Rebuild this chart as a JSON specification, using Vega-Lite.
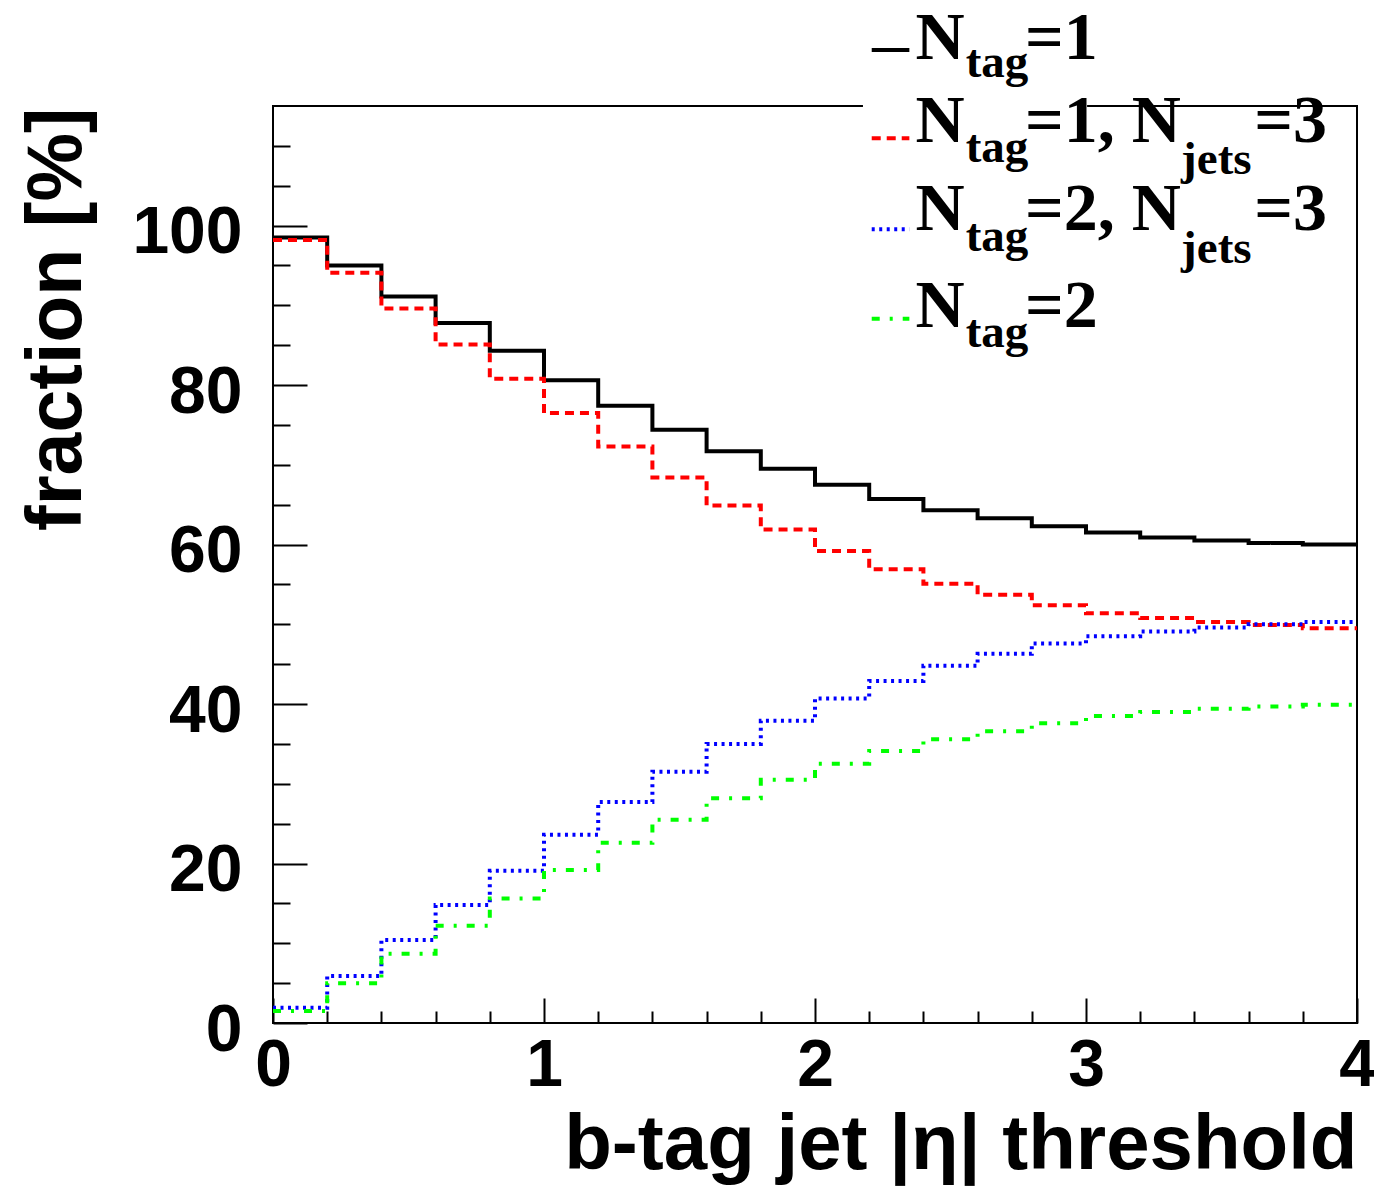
{
  "$schema": "https://vega.github.io/schema/vega-lite/v6.json",
  "width": 1084,
  "height": 917,
  "autosize": {"type": "none"},
  "padding": {"left": 273, "top": 106, "right": 17, "bottom": 163},
  "background": "#ffffff",
  "config": {
    "view": {"stroke": "#000000", "strokeWidth": 2},
    "axis": {
      "grid": false, "domain": false, "tickColor": "#000000", "tickWidth": 2,
      "labelColor": "#000000", "titleColor": "#000000",
      "labelFont": "Liberation Sans", "labelFontWeight": "bold", "labelFontSize": 66,
      "titleFont": "Liberation Sans", "titleFontWeight": "bold", "titleFontSize": 77,
      "labelFlush": false, "labelOverlap": false, "labelBound": false
    },
    "text": {"font": "Liberation Serif", "fontWeight": "bold", "color": "#000000"}
  },
  "datasets": {
    "hist": [
      {"s": "Ntag1", "bin": 0, "x0": 0.0, "x1": 0.2, "v": 98.5},
      {"s": "Ntag1", "bin": 1, "x0": 0.2, "x1": 0.4, "v": 95.0},
      {"s": "Ntag1", "bin": 2, "x0": 0.4, "x1": 0.6, "v": 91.1},
      {"s": "Ntag1", "bin": 3, "x0": 0.6, "x1": 0.8, "v": 87.8},
      {"s": "Ntag1", "bin": 4, "x0": 0.8, "x1": 1.0, "v": 84.3},
      {"s": "Ntag1", "bin": 5, "x0": 1.0, "x1": 1.2, "v": 80.6},
      {"s": "Ntag1", "bin": 6, "x0": 1.2, "x1": 1.4, "v": 77.4},
      {"s": "Ntag1", "bin": 7, "x0": 1.4, "x1": 1.6, "v": 74.4},
      {"s": "Ntag1", "bin": 8, "x0": 1.6, "x1": 1.8, "v": 71.7},
      {"s": "Ntag1", "bin": 9, "x0": 1.8, "x1": 2.0, "v": 69.5},
      {"s": "Ntag1", "bin": 10, "x0": 2.0, "x1": 2.2, "v": 67.5},
      {"s": "Ntag1", "bin": 11, "x0": 2.2, "x1": 2.4, "v": 65.7},
      {"s": "Ntag1", "bin": 12, "x0": 2.4, "x1": 2.6, "v": 64.3},
      {"s": "Ntag1", "bin": 13, "x0": 2.6, "x1": 2.8, "v": 63.3},
      {"s": "Ntag1", "bin": 14, "x0": 2.8, "x1": 3.0, "v": 62.3},
      {"s": "Ntag1", "bin": 15, "x0": 3.0, "x1": 3.2, "v": 61.5},
      {"s": "Ntag1", "bin": 16, "x0": 3.2, "x1": 3.4, "v": 60.9},
      {"s": "Ntag1", "bin": 17, "x0": 3.4, "x1": 3.6, "v": 60.5},
      {"s": "Ntag1", "bin": 18, "x0": 3.6, "x1": 3.8, "v": 60.2},
      {"s": "Ntag1", "bin": 19, "x0": 3.8, "x1": 4.0, "v": 60.0},
      {"s": "Ntag1Njets3", "bin": 0, "x0": 0.0, "x1": 0.2, "v": 98.2},
      {"s": "Ntag1Njets3", "bin": 1, "x0": 0.2, "x1": 0.4, "v": 94.1},
      {"s": "Ntag1Njets3", "bin": 2, "x0": 0.4, "x1": 0.6, "v": 89.6},
      {"s": "Ntag1Njets3", "bin": 3, "x0": 0.6, "x1": 0.8, "v": 85.1},
      {"s": "Ntag1Njets3", "bin": 4, "x0": 0.8, "x1": 1.0, "v": 80.8},
      {"s": "Ntag1Njets3", "bin": 5, "x0": 1.0, "x1": 1.2, "v": 76.5},
      {"s": "Ntag1Njets3", "bin": 6, "x0": 1.2, "x1": 1.4, "v": 72.3},
      {"s": "Ntag1Njets3", "bin": 7, "x0": 1.4, "x1": 1.6, "v": 68.4},
      {"s": "Ntag1Njets3", "bin": 8, "x0": 1.6, "x1": 1.8, "v": 64.9},
      {"s": "Ntag1Njets3", "bin": 9, "x0": 1.8, "x1": 2.0, "v": 61.9},
      {"s": "Ntag1Njets3", "bin": 10, "x0": 2.0, "x1": 2.2, "v": 59.2},
      {"s": "Ntag1Njets3", "bin": 11, "x0": 2.2, "x1": 2.4, "v": 56.9},
      {"s": "Ntag1Njets3", "bin": 12, "x0": 2.4, "x1": 2.6, "v": 55.1},
      {"s": "Ntag1Njets3", "bin": 13, "x0": 2.6, "x1": 2.8, "v": 53.7},
      {"s": "Ntag1Njets3", "bin": 14, "x0": 2.8, "x1": 3.0, "v": 52.4},
      {"s": "Ntag1Njets3", "bin": 15, "x0": 3.0, "x1": 3.2, "v": 51.4},
      {"s": "Ntag1Njets3", "bin": 16, "x0": 3.2, "x1": 3.4, "v": 50.8},
      {"s": "Ntag1Njets3", "bin": 17, "x0": 3.4, "x1": 3.6, "v": 50.3},
      {"s": "Ntag1Njets3", "bin": 18, "x0": 3.6, "x1": 3.8, "v": 49.9},
      {"s": "Ntag1Njets3", "bin": 19, "x0": 3.8, "x1": 4.0, "v": 49.5},
      {"s": "Ntag2Njets3", "bin": 0, "x0": 0.0, "x1": 0.2, "v": 1.9},
      {"s": "Ntag2Njets3", "bin": 1, "x0": 0.2, "x1": 0.4, "v": 5.9},
      {"s": "Ntag2Njets3", "bin": 2, "x0": 0.4, "x1": 0.6, "v": 10.4},
      {"s": "Ntag2Njets3", "bin": 3, "x0": 0.6, "x1": 0.8, "v": 14.8},
      {"s": "Ntag2Njets3", "bin": 4, "x0": 0.8, "x1": 1.0, "v": 19.1},
      {"s": "Ntag2Njets3", "bin": 5, "x0": 1.0, "x1": 1.2, "v": 23.6},
      {"s": "Ntag2Njets3", "bin": 6, "x0": 1.2, "x1": 1.4, "v": 27.7},
      {"s": "Ntag2Njets3", "bin": 7, "x0": 1.4, "x1": 1.6, "v": 31.5},
      {"s": "Ntag2Njets3", "bin": 8, "x0": 1.6, "x1": 1.8, "v": 35.0},
      {"s": "Ntag2Njets3", "bin": 9, "x0": 1.8, "x1": 2.0, "v": 37.9},
      {"s": "Ntag2Njets3", "bin": 10, "x0": 2.0, "x1": 2.2, "v": 40.7},
      {"s": "Ntag2Njets3", "bin": 11, "x0": 2.2, "x1": 2.4, "v": 42.9},
      {"s": "Ntag2Njets3", "bin": 12, "x0": 2.4, "x1": 2.6, "v": 44.8},
      {"s": "Ntag2Njets3", "bin": 13, "x0": 2.6, "x1": 2.8, "v": 46.3},
      {"s": "Ntag2Njets3", "bin": 14, "x0": 2.8, "x1": 3.0, "v": 47.6},
      {"s": "Ntag2Njets3", "bin": 15, "x0": 3.0, "x1": 3.2, "v": 48.5},
      {"s": "Ntag2Njets3", "bin": 16, "x0": 3.2, "x1": 3.4, "v": 49.1},
      {"s": "Ntag2Njets3", "bin": 17, "x0": 3.4, "x1": 3.6, "v": 49.6},
      {"s": "Ntag2Njets3", "bin": 18, "x0": 3.6, "x1": 3.8, "v": 50.0},
      {"s": "Ntag2Njets3", "bin": 19, "x0": 3.8, "x1": 4.0, "v": 50.3},
      {"s": "Ntag2", "bin": 0, "x0": 0.0, "x1": 0.2, "v": 1.5},
      {"s": "Ntag2", "bin": 1, "x0": 0.2, "x1": 0.4, "v": 5.0},
      {"s": "Ntag2", "bin": 2, "x0": 0.4, "x1": 0.6, "v": 8.7},
      {"s": "Ntag2", "bin": 3, "x0": 0.6, "x1": 0.8, "v": 12.2},
      {"s": "Ntag2", "bin": 4, "x0": 0.8, "x1": 1.0, "v": 15.6},
      {"s": "Ntag2", "bin": 5, "x0": 1.0, "x1": 1.2, "v": 19.2},
      {"s": "Ntag2", "bin": 6, "x0": 1.2, "x1": 1.4, "v": 22.6},
      {"s": "Ntag2", "bin": 7, "x0": 1.4, "x1": 1.6, "v": 25.5},
      {"s": "Ntag2", "bin": 8, "x0": 1.6, "x1": 1.8, "v": 28.2},
      {"s": "Ntag2", "bin": 9, "x0": 1.8, "x1": 2.0, "v": 30.5},
      {"s": "Ntag2", "bin": 10, "x0": 2.0, "x1": 2.2, "v": 32.5},
      {"s": "Ntag2", "bin": 11, "x0": 2.2, "x1": 2.4, "v": 34.1},
      {"s": "Ntag2", "bin": 12, "x0": 2.4, "x1": 2.6, "v": 35.6},
      {"s": "Ntag2", "bin": 13, "x0": 2.6, "x1": 2.8, "v": 36.6},
      {"s": "Ntag2", "bin": 14, "x0": 2.8, "x1": 3.0, "v": 37.6},
      {"s": "Ntag2", "bin": 15, "x0": 3.0, "x1": 3.2, "v": 38.5},
      {"s": "Ntag2", "bin": 16, "x0": 3.2, "x1": 3.4, "v": 39.0},
      {"s": "Ntag2", "bin": 17, "x0": 3.4, "x1": 3.6, "v": 39.4},
      {"s": "Ntag2", "bin": 18, "x0": 3.6, "x1": 3.8, "v": 39.7},
      {"s": "Ntag2", "bin": 19, "x0": 3.8, "x1": 4.0, "v": 39.9}
    ]
  },
  "layer": [
    {
      "data": {"name": "hist"},
      "transform": [{"fold": ["x0", "x1"], "as": ["side", "edge"]}],
      "mark": {"type": "line", "strokeWidth": 4, "strokeJoin": "miter"},
      "encoding": {
        "x": {
          "field": "edge", "type": "quantitative",
          "scale": {"domain": [0, 4], "nice": false, "zero": false},
          "axis": {
            "orient": "bottom", "values": [0, 1, 2, 3, 4], "format": "d",
            "tickSize": -25, "labelPadding": 35, "labelBaseline": "top",
            "title": "b-tag jet |η| threshold", "titleFontSize": 78,
            "titleAlign": "right", "titleAnchor": "end", "titleBaseline": "alphabetic",
            "titleX": 1084, "titleY": 145
          }
        },
        "y": {
          "field": "v", "type": "quantitative",
          "scale": {"domain": [0, 115], "nice": false, "zero": false},
          "axis": {
            "orient": "left", "values": [0, 20, 40, 60, 80, 100], "format": "d",
            "tickSize": -34, "labelPadding": 65, "labelOffset": 7,
            "title": "fraction [%]", "titleFontSize": 77,
            "titleAngle": 270, "titleAlign": "right", "titleBaseline": "alphabetic",
            "titleX": -193, "titleY": 1
          }
        },
        "color": {
          "field": "s", "type": "nominal",
          "scale": {"domain": ["Ntag1", "Ntag1Njets3", "Ntag2Njets3", "Ntag2"], "range": ["#000000", "#ff0000", "#0000ff", "#00ff00"]},
          "legend": null
        },
        "strokeDash": {
          "field": "s", "type": "nominal",
          "scale": {"domain": ["Ntag1", "Ntag1Njets3", "Ntag2Njets3", "Ntag2"], "range": [[1, 0], [9, 6], [3, 4.5], [8, 10, 3, 10]]},
          "legend": null
        },
        "order": [{"field": "bin", "type": "quantitative"}, {"field": "side", "type": "ordinal"}]
      }
    },
    {
      "data": {"values": [{}]},
      "mark": {"type": "rect", "fill": "#ffffff"},
      "encoding": {
        "x": {
          "datum": 2.177, "type": "quantitative",
          "axis": {"orient": "bottom", "values": [0.2, 0.4, 0.6, 0.8, 1.2, 1.4, 1.6, 1.8, 2.2, 2.4, 2.6, 2.8, 3.2, 3.4, 3.6, 3.8], "tickSize": -12, "labels": false, "title": null}
        },
        "x2": {"datum": 3.004},
        "y": {
          "datum": 114.5, "type": "quantitative",
          "axis": {"orient": "left", "values": [5, 10, 15, 25, 30, 35, 45, 50, 55, 65, 70, 75, 85, 90, 95, 105, 110], "tickSize": -17, "labels": false, "title": null}
        },
        "y2": {"datum": 115.6}
      }
    },
    {
      "data": {"values": [{}]},
      "mark": {"type": "rule", "color": "#000000", "strokeWidth": 4},
      "encoding": {"x": {"datum": 2.2093, "type": "quantitative", "axis": null}, "x2": {"datum": 2.3482}, "y": {"datum": 122.01, "type": "quantitative", "axis": null}}
    },
    {
      "data": {"values": [{}]},
      "mark": {"type": "rule", "color": "#ff0000", "strokeWidth": 4, "strokeDash": [9, 6]},
      "encoding": {"x": {"datum": 2.2093, "type": "quantitative", "axis": null}, "x2": {"datum": 2.3482}, "y": {"datum": 110.94, "type": "quantitative", "axis": null}}
    },
    {
      "data": {"values": [{}]},
      "mark": {"type": "rule", "color": "#0000ff", "strokeWidth": 4, "strokeDash": [3, 4.5]},
      "encoding": {"x": {"datum": 2.2093, "type": "quantitative", "axis": null}, "x2": {"datum": 2.3482}, "y": {"datum": 99.54, "type": "quantitative", "axis": null}}
    },
    {
      "data": {"values": [{}]},
      "mark": {"type": "rule", "color": "#00ff00", "strokeWidth": 4, "strokeDash": [8, 10, 3, 10]},
      "encoding": {"x": {"datum": 2.2093, "type": "quantitative", "axis": null}, "x2": {"datum": 2.3482}, "y": {"datum": 88.33, "type": "quantitative", "axis": null}}
    },
    {"data": {"values": [{}]}, "mark": {"type": "text", "text": "N", "fontSize": 68, "align": "left", "baseline": "alphabetic"},
     "encoding": {"x": {"datum": 2.371, "type": "quantitative", "axis": null}, "y": {"datum": 120.85, "type": "quantitative", "axis": null}}},
    {"data": {"values": [{}]}, "mark": {"type": "text", "text": "tag", "fontSize": 47, "align": "left", "baseline": "alphabetic"},
     "encoding": {"x": {"datum": 2.556, "type": "quantitative", "axis": null}, "y": {"datum": 118.59, "type": "quantitative", "axis": null}}},
    {"data": {"values": [{}]}, "mark": {"type": "text", "text": "=1", "fontSize": 68, "align": "left", "baseline": "alphabetic"},
     "encoding": {"x": {"datum": 2.775, "type": "quantitative", "axis": null}, "y": {"datum": 120.85, "type": "quantitative", "axis": null}}},

    {"data": {"values": [{}]}, "mark": {"type": "text", "text": "N", "fontSize": 68, "align": "left", "baseline": "alphabetic"},
     "encoding": {"x": {"datum": 2.371, "type": "quantitative", "axis": null}, "y": {"datum": 110.52, "type": "quantitative", "axis": null}}},
    {"data": {"values": [{}]}, "mark": {"type": "text", "text": "tag", "fontSize": 47, "align": "left", "baseline": "alphabetic"},
     "encoding": {"x": {"datum": 2.556, "type": "quantitative", "axis": null}, "y": {"datum": 108.01, "type": "quantitative", "axis": null}}},
    {"data": {"values": [{}]}, "mark": {"type": "text", "text": "=1, N", "fontSize": 68, "align": "left", "baseline": "alphabetic"},
     "encoding": {"x": {"datum": 2.775, "type": "quantitative", "axis": null}, "y": {"datum": 110.52, "type": "quantitative", "axis": null}}},
    {"data": {"values": [{}]}, "mark": {"type": "text", "text": "jets", "fontSize": 47, "align": "left", "baseline": "alphabetic"},
     "encoding": {"x": {"datum": 3.351, "type": "quantitative", "axis": null}, "y": {"datum": 106.47, "type": "quantitative", "axis": null}}},
    {"data": {"values": [{}]}, "mark": {"type": "text", "text": "=3", "fontSize": 68, "align": "left", "baseline": "alphabetic"},
     "encoding": {"x": {"datum": 3.6208, "type": "quantitative", "axis": null}, "y": {"datum": 110.52, "type": "quantitative", "axis": null}}},

    {"data": {"values": [{}]}, "mark": {"type": "text", "text": "N", "fontSize": 68, "align": "left", "baseline": "alphabetic"},
     "encoding": {"x": {"datum": 2.371, "type": "quantitative", "axis": null}, "y": {"datum": 99.45, "type": "quantitative", "axis": null}}},
    {"data": {"values": [{}]}, "mark": {"type": "text", "text": "tag", "fontSize": 47, "align": "left", "baseline": "alphabetic"},
     "encoding": {"x": {"datum": 2.556, "type": "quantitative", "axis": null}, "y": {"datum": 96.82, "type": "quantitative", "axis": null}}},
    {"data": {"values": [{}]}, "mark": {"type": "text", "text": "=2, N", "fontSize": 68, "align": "left", "baseline": "alphabetic"},
     "encoding": {"x": {"datum": 2.775, "type": "quantitative", "axis": null}, "y": {"datum": 99.45, "type": "quantitative", "axis": null}}},
    {"data": {"values": [{}]}, "mark": {"type": "text", "text": "jets", "fontSize": 47, "align": "left", "baseline": "alphabetic"},
     "encoding": {"x": {"datum": 3.351, "type": "quantitative", "axis": null}, "y": {"datum": 95.27, "type": "quantitative", "axis": null}}},
    {"data": {"values": [{}]}, "mark": {"type": "text", "text": "=3", "fontSize": 68, "align": "left", "baseline": "alphabetic"},
     "encoding": {"x": {"datum": 3.6208, "type": "quantitative", "axis": null}, "y": {"datum": 99.45, "type": "quantitative", "axis": null}}},

    {"data": {"values": [{}]}, "mark": {"type": "text", "text": "N", "fontSize": 68, "align": "left", "baseline": "alphabetic"},
     "encoding": {"x": {"datum": 2.371, "type": "quantitative", "axis": null}, "y": {"datum": 87.33, "type": "quantitative", "axis": null}}},
    {"data": {"values": [{}]}, "mark": {"type": "text", "text": "tag", "fontSize": 47, "align": "left", "baseline": "alphabetic"},
     "encoding": {"x": {"datum": 2.556, "type": "quantitative", "axis": null}, "y": {"datum": 84.82, "type": "quantitative", "axis": null}}},
    {"data": {"values": [{}]}, "mark": {"type": "text", "text": "=2", "fontSize": 68, "align": "left", "baseline": "alphabetic"},
     "encoding": {"x": {"datum": 2.775, "type": "quantitative", "axis": null}, "y": {"datum": 87.33, "type": "quantitative", "axis": null}}}
  ],
  "resolve": {"axis": {"x": "independent", "y": "independent"}}
}
